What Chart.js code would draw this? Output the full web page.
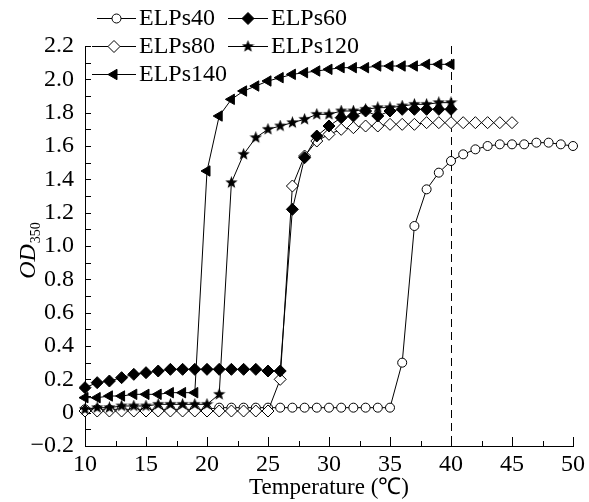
<!DOCTYPE html>
<html>
<head>
<meta charset="utf-8">
<script src="https://cdn.jsdelivr.net/npm/chart.js@4.4.1/dist/chart.umd.min.js"></script>
<style>
  html, body { margin: 0; padding: 0; background: #fff; }
</style>
</head>
<body>
<canvas id="chart" width="589" height="502"></canvas>
<script>
// temperatures (°C), one reading per degree
const temps = [10, 11, 12, 13, 14, 15, 16, 17, 18, 19, 20, 21, 22, 23, 24, 25, 26, 27, 28, 29, 30,
  31, 32, 33, 34, 35, 36, 37, 38, 39, 40, 41, 42, 43, 44, 45, 46, 47, 48, 49, 50];

// OD350 readings, starting at 10 °C
const elps40 = [0.02, 0.02, 0.02, 0.02, 0.02, 0.02, 0.02, 0.02, 0.02, 0.02, 0.02,
  0.03, 0.03, 0.03, 0.03, 0.03, 0.03, 0.03, 0.03, 0.03, 0.03, 0.03, 0.03, 0.03, 0.03, 0.03,
  0.30, 1.12, 1.34, 1.44, 1.51, 1.55, 1.58, 1.60, 1.61, 1.61, 1.61, 1.62, 1.62, 1.61, 1.60];
const elps60 = [0.15, 0.18, 0.19, 0.21, 0.23, 0.24, 0.25, 0.26, 0.26, 0.26, 0.26, 0.26, 0.26, 0.26, 0.26, 0.25, 0.25,
  1.22, 1.53, 1.66, 1.72, 1.77, 1.78, 1.81, 1.78, 1.81, 1.82, 1.82, 1.82, 1.82, 1.82];
const elps80 = [0.01, 0.01, 0.01, 0.01, 0.01, 0.01, 0.01, 0.01, 0.01, 0.01, 0.01, 0.01, 0.01, 0.01, 0.01, 0.01,
  0.20, 1.36, 1.54, 1.63, 1.67, 1.70, 1.71, 1.72, 1.72, 1.73, 1.73, 1.73, 1.74, 1.74, 1.74, 1.74, 1.74, 1.74, 1.74, 1.74];
const elps120 = [0.02, 0.03, 0.03, 0.04, 0.04, 0.04, 0.05, 0.05, 0.05, 0.05, 0.05, 0.11,
  1.38, 1.55, 1.65, 1.70, 1.72, 1.74, 1.76, 1.79, 1.79, 1.81, 1.81, 1.82, 1.83, 1.83, 1.84, 1.85, 1.85, 1.86, 1.86];
const elps140 = [0.09, 0.09, 0.10, 0.10, 0.11, 0.11, 0.11, 0.12, 0.12, 0.12,
  1.45, 1.78, 1.88, 1.93, 1.96, 1.99, 2.01, 2.03, 2.04, 2.05, 2.06, 2.07, 2.07, 2.07, 2.08, 2.08, 2.08, 2.08, 2.09, 2.09, 2.09];

const seriesNames = ['ELPs40', 'ELPs60', 'ELPs80', 'ELPs120', 'ELPs140'];
const xTickLabels = ['10', '15', '20', '25', '30', '35', '40', '45', '50'];
const yTickLabels = ['\u22120.2', '0', '0.2', '0.4', '0.6', '0.8', '1.0', '1.2', '1.4', '1.6', '1.8', '2.0', '2.2'];
const cutoffTemp = 40;

const SERIF = "'Liberation Serif', 'Times New Roman', serif";

function starImage(size) {
  const c = document.createElement('canvas');
  c.width = c.height = size;
  const g = c.getContext('2d');
  const R = size / 2, r = R * 0.42;
  g.beginPath();
  for (let i = 0; i < 10; i++) {
    const a = -Math.PI / 2 + i * Math.PI / 5;
    const rr = i % 2 ? r : R;
    g.lineTo(R + rr * Math.cos(a), R + rr * Math.sin(a));
  }
  g.closePath();
  g.fillStyle = '#000';
  g.fill();
  return c;
}
const star = starImage(13);

function pts(vals) {
  return vals.map((v, i) => ({ x: temps[i], y: v }));
}

const markers = [
  { pointStyle: 'circle', radius: 4.5, fill: '#fff', rotation: 0 },
  { pointStyle: 'rectRot', radius: 6, fill: '#000', rotation: 0 },
  { pointStyle: 'rectRot', radius: 6, fill: '#fff', rotation: 0 },
  { pointStyle: star, radius: 6, fill: '#000', rotation: 0 },
  { pointStyle: 'triangle', radius: 6, fill: '#000', rotation: -90 }
];
const values = [elps40, elps60, elps80, elps120, elps140];
const drawOrder = [5, 3, 4, 2, 1];

const datasets = seriesNames.map((name, i) => ({
  label: name,
  data: pts(values[i]),
  borderColor: '#000',
  borderWidth: 1,
  backgroundColor: markers[i].fill,
  pointStyle: markers[i].pointStyle,
  pointRadius: markers[i].radius,
  pointRotation: markers[i].rotation,
  pointBackgroundColor: markers[i].fill,
  pointBorderColor: '#000',
  pointBorderWidth: 1,
  tension: 0,
  order: drawOrder[i],
  clip: 6
}));

const extras = {
  id: 'extras',
  beforeDatasetsDraw(chart) {
    const { ctx, chartArea, scales: { x, y } } = chart;
    ctx.save();
    ctx.strokeStyle = '#000';
    ctx.lineWidth = 1;
    // inward ticks on y (every 0.1)
    for (let v = -2; v <= 22; v++) {
      const py = Math.round(y.getPixelForValue(v / 10)) + 0.5;
      ctx.beginPath();
      ctx.moveTo(chartArea.left, py);
      ctx.lineTo(chartArea.left + 6, py);
      ctx.stroke();
    }
    // inward ticks on x (major every 5, minor every 2.5)
    for (let k = 0; k <= 16; k++) {
      const px = Math.round(x.getPixelForValue(10 + k * 2.5)) + 0.5;
      const len = k % 2 ? 5 : 9;
      ctx.beginPath();
      ctx.moveTo(px, chartArea.bottom);
      ctx.lineTo(px, chartArea.bottom - len);
      ctx.stroke();
    }
    // dashed line at 40 °C
    const dx = Math.round(x.getPixelForValue(cutoffTemp)) + 0.5;
    ctx.setLineDash([8, 5]);
    ctx.beginPath();
    ctx.moveTo(dx, chartArea.top);
    ctx.lineTo(dx, chartArea.bottom);
    ctx.stroke();
    ctx.restore();
  },
  afterDraw(chart) {
    const { ctx } = chart;
    ctx.save();
    // y axis title OD350
    ctx.translate(29, 251);
    ctx.rotate(-Math.PI / 2);
    ctx.fillStyle = '#000';
    ctx.textBaseline = 'middle';
    ctx.font = 'italic 24px ' + SERIF;
    const w1 = ctx.measureText('OD').width;
    ctx.font = '14px ' + SERIF;
    const w2 = ctx.measureText('350').width;
    const start = -(w1 + w2) / 2;
    ctx.font = 'italic 24px ' + SERIF;
    ctx.textAlign = 'left';
    ctx.fillText('OD', start, 0);
    ctx.font = '14px ' + SERIF;
    ctx.fillText('350', start + w1 + 1, 7);
    ctx.restore();

    // legend
    const slots = [
      { x: 97, y: 18 }, { x: 228, y: 18 },
      { x: 92, y: 46 }, { x: 228, y: 46 },
      { x: 92, y: 74 }
    ];
    ctx.save();
    ctx.font = '24px ' + SERIF;
    ctx.textBaseline = 'middle';
    ctx.textAlign = 'left';
    seriesNames.forEach((name, i) => {
      const s = slots[i];
      const x0 = s.x, x1 = 136;
      const lineEnd = i % 2 === 1 && i < 4 ? s.x + 40 : x1;
      ctx.strokeStyle = '#000';
      ctx.lineWidth = 1;
      ctx.beginPath();
      ctx.moveTo(x0, s.y + 0.5);
      ctx.lineTo(lineEnd, s.y + 0.5);
      ctx.stroke();
      const mx = (x0 + lineEnd) / 2;
      ctx.fillStyle = markers[i].fill;
      ctx.strokeStyle = '#000';
      Chart.helpers.drawPoint(ctx, {
        pointStyle: markers[i].pointStyle,
        radius: markers[i].radius,
        rotation: markers[i].rotation,
        borderWidth: 1
      }, mx, s.y + 0.5);
      ctx.fillStyle = '#000';
      ctx.fillText(name, lineEnd + 3, s.y + 1);
    });
    ctx.restore();
  }
};

new Chart(document.getElementById('chart').getContext('2d'), {
  type: 'line',
  data: { datasets },
  options: {
    responsive: false,
    animation: false,
    layout: { padding: { top: 46, right: 15, left: 0, bottom: 0 } },
    plugins: { legend: { display: false }, tooltip: { enabled: false } },
    scales: {
      x: {
        type: 'linear',
        min: 10,
        max: 50,
        afterFit: s => { s.height = 56; },
        grid: { display: false, drawTicks: false },
        border: { display: true, color: '#000', width: 1 },
        ticks: {
          stepSize: 5,
          padding: 4,
          color: '#000',
          font: { family: SERIF, size: 24 },
          maxRotation: 0,
          callback: (v, i) => xTickLabels[i]
        },
        title: {
          display: true,
          text: 'Temperature (\u2103)',
          color: '#000',
          font: { family: SERIF, size: 23 },
          padding: { top: 0, bottom: 0 }
        }
      },
      y: {
        type: 'linear',
        min: -0.2,
        max: 2.2,
        afterFit: s => { s.width = 85; },
        grid: { display: false, drawTicks: false },
        border: { display: true, color: '#000', width: 1 },
        ticks: {
          stepSize: 0.2,
          padding: 11,
          color: '#000',
          font: { family: SERIF, size: 24 },
          callback: (v, i) => yTickLabels[i]
        }
      }
    }
  },
  plugins: [extras]
});
</script>
</body>
</html>
